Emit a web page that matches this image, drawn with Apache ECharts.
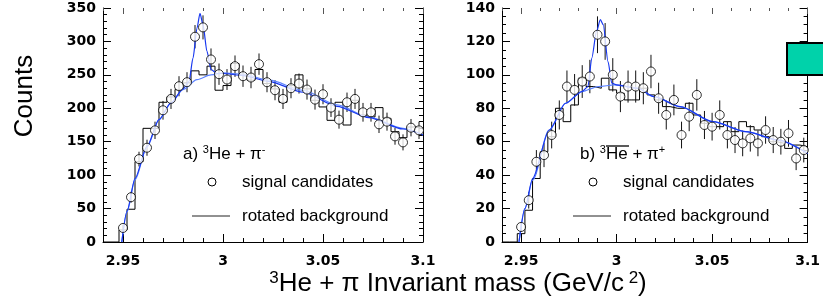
<!DOCTYPE html>
<html>
<head>
<meta charset="utf-8">
<script src="https://cdn.jsdelivr.net/npm/echarts@6/dist/echarts.min.js"></script>
<style>
  html, body { margin: 0; padding: 0; background: #fff; }
  #chart { width: 823px; height: 302px; }
</style>
</head>
<body>
<div id="chart"></div>
<script>
// bin centres (GeV/c^2), bin width 0.004
const binCenters = [2.942, 2.946, 2.950, 2.954, 2.958, 2.962, 2.966, 2.970, 2.974, 2.978,
  2.982, 2.986, 2.990, 2.994, 2.998, 3.002, 3.006, 3.010, 3.014, 3.018,
  3.022, 3.026, 3.030, 3.034, 3.038, 3.042, 3.046, 3.050, 3.054, 3.058,
  3.062, 3.066, 3.070, 3.074, 3.078, 3.082, 3.086, 3.090, 3.094, 3.098];
const binHalf = 0.002;
const xTickLabels = [2.95, 3, 3.05, 3.1];

// a) 3He + pi-
const signalA = [null, null, 21, 67, 124, 141, 167, 197, 214, 233,
  239, 307, 321, 273, 251, 243, 263, 248, 246, 266,
  239, 227, 214, 230, 237, 228, 213, 221, 201, 183,
  209, 214, 194, 194, 176, 180, 158, 149, 171, 167];
const errorA = [null, null, 4.6, 8.2, 11, 12, 13, 14, 15, 15,
  15, 17.5, 18, 16.5, 16, 15.6, 16, 16, 16, 16,
  15, 15, 15, 15, 15, 15, 15, 15, 14, 13.5,
  14.5, 15, 14, 14, 13, 13.5, 12.5, 12, 13, 13];
const rotatedA = [0, 0, 18, 49, 120, 170, 170, 209, 217, 228,
  238, 256, 250, 263, 227, 234, 267, 250, 242, 258,
  237, 229, 209, 234, 250, 229, 212, 202, 182, 209,
  175, 212, 190, 187, 201, 185, 165, 156, 172, 170];
const fitAx = [2.9494, 2.952, 2.956, 2.962, 2.968, 2.974, 2.980, 2.983, 2.985, 2.987, 2.9885,
  2.990, 2.992, 2.994, 2.997, 3.000, 3.010, 3.023, 3.040, 3.057, 3.073, 3.090, 3.100];
const fitAy = [0, 46, 95, 143, 183, 208, 229, 240, 275, 320, 342,
  325, 285, 258, 252, 252, 249, 240, 224, 203, 186, 169, 160];
const bkgAx = [2.9494, 2.952, 2.956, 2.962, 2.968, 2.974, 2.980, 2.987, 2.994, 3.000,
  3.010, 3.023, 3.040, 3.057, 3.073, 3.090, 3.100];
const bkgAy = [0, 45, 93, 142, 183, 208, 228, 243, 250, 253,
  251, 242, 227, 205, 187, 170, 160];

// b) anti-3He + pi+
const signalB = [null, null, 9, 25, 48, 52, 64, 76, 93, 91,
  96, 99, 124, 120, 100, 87, 93, 93, 92, 102,
  86, 76, 85, 64, 75, 88, 70, 69, 76, 64,
  61, 59, 62, 59, 67, 61, 60, 65, 50, 55];
const errorB = [null, null, 3, 5, 7, 7.2, 8, 8.7, 9.6, 9.5,
  9.8, 10, 11, 11, 10, 9.3, 9.6, 9.6, 9.6, 10,
  9.3, 8.7, 9.2, 8, 8.7, 9.4, 8.4, 8.3, 8.7, 8,
  7.8, 7.7, 7.9, 7.7, 8.2, 7.8, 7.7, 8, 7, 7.4];
const rotatedB = [0, 0, 5, 19, 38, 54, 63, 80, 72, 82,
  98, 93, 92, 98, 91, 89, 85, 85, 92, 88,
  85, 81, 80, 80, 83, 76, 71, 69, 69, 72,
  66, 72, 69, 67, 63, 60, 59, 56, 58, 57];
const fitBx = [2.9489, 2.952, 2.956, 2.9647, 2.9733, 2.9818, 2.985, 2.987, 2.9895, 2.9915,
  2.993, 2.9955, 2.9975, 3.000, 3.011, 3.0196, 3.0333, 3.0504, 3.0676, 3.0847, 3.100];
const fitBy = [0, 20, 38, 67, 83, 90, 93, 110, 126, 133,
  130, 108, 95, 94, 92, 87, 81, 72, 66, 61, 53];
const bkgBx = [2.9489, 2.952, 2.956, 2.9647, 2.9733, 2.9818, 2.9904, 2.999, 3.011, 3.0196,
  3.0333, 3.0504, 3.0676, 3.0847, 3.100];
const bkgBy = [0, 20, 37, 67, 83, 90, 93, 94, 92, 87, 81, 72, 66, 61, 53];

const labelFont = {
  color: '#000',
  fontFamily: 'DejaVu Sans',
  fontWeight: 'bold',
  fontSize: 14
};

function pairs (xs, ys) {
  return xs.map((x, i) => [x, ys[i]]);
}

function stepData (values) {
  const out = [];
  values.forEach((v, i) => {
    out.push([binCenters[i] - binHalf, v]);
    out.push([binCenters[i] + binHalf, v]);
  });
  return out;
}

function pointData (values, errors) {
  const out = [];
  values.forEach((v, i) => {
    if (v !== null) out.push([binCenters[i], v, errors[i]]);
  });
  return out;
}

// four x axes per panel: bottom minor/major, top minor/major
function xAxesFor (gridIndex) {
  const base = {
    type: 'value', gridIndex: gridIndex, min: 2.94, max: 3.1,
    splitLine: { show: false }
  };
  return [
    Object.assign({}, base, {
      position: 'bottom', interval: 0.01,
      axisLine: { show: true, onZero: false, lineStyle: { color: '#000', width: 1 } },
      axisTick: { show: true, inside: true, length: 4, lineStyle: { color: '#000' } },
      axisLabel: Object.assign({ customValues: xTickLabels, margin: 12 }, labelFont)
    }),
    Object.assign({}, base, {
      position: 'bottom',
      axisLine: { show: false, onZero: false },
      axisTick: { show: true, inside: true, length: 8, customValues: xTickLabels, lineStyle: { color: '#000' } },
      axisLabel: { show: false }
    }),
    Object.assign({}, base, {
      position: 'top', interval: 0.01,
      axisLine: { show: false, onZero: false },
      axisTick: { show: true, inside: true, length: 3, lineStyle: { color: '#555' } },
      axisLabel: { show: false }
    }),
    Object.assign({}, base, {
      position: 'top',
      axisLine: { show: false, onZero: false },
      axisTick: { show: true, inside: true, length: 6, customValues: xTickLabels, lineStyle: { color: '#555' } },
      axisLabel: { show: false }
    })
  ];
}

function yAxesFor (gridIndex, max, interval, minorSplit) {
  const base = {
    type: 'value', gridIndex: gridIndex, min: 0, max: max, interval: interval,
    splitLine: { show: false },
    axisLine: { show: true, onZero: false, lineStyle: { color: '#000', width: 1 } },
    axisTick: { show: true, inside: true, length: 8, lineStyle: { color: '#000' } },
    minorTick: { show: true, splitNumber: minorSplit, length: 4, lineStyle: { color: '#000' } }
  };
  return [
    Object.assign({}, base, {
      position: 'left',
      axisLabel: Object.assign({ margin: 7 }, labelFont)
    }),
    Object.assign({}, base, {
      position: 'right',
      axisLabel: { show: false }
    })
  ];
}

function errorBars (xIdx, yIdx, data) {
  return {
    type: 'custom', xAxisIndex: xIdx, yAxisIndex: yIdx, data: data, z: 3,
    renderItem: function (params, api) {
      const x = api.value(0), v = api.value(1), e = api.value(2);
      const top = api.coord([x, v + e]);
      const bot = api.coord([x, v - e]);
      return {
        type: 'line',
        shape: { x1: top[0], y1: top[1], x2: bot[0], y2: bot[1] },
        style: { stroke: '#111', lineWidth: 1 }
      };
    }
  };
}

function panelSeries (xIdx, yIdx, rotated, signal, errors, fx, fy, bx, by) {
  return [
    {
      type: 'line', xAxisIndex: xIdx, yAxisIndex: yIdx, data: stepData(rotated),
      symbol: 'none', lineStyle: { color: '#000', width: 1 }, z: 2, animation: false
    },
    errorBars(xIdx, yIdx, pointData(signal, errors)),
    {
      type: 'line', xAxisIndex: xIdx, yAxisIndex: yIdx, data: pairs(bx, by),
      symbol: 'none', smooth: 0.3, smoothMonotone: 'x',
      lineStyle: { color: '#5b82ff', width: 1.2 }, z: 4
    },
    {
      type: 'line', xAxisIndex: xIdx, yAxisIndex: yIdx, data: pairs(fx, fy),
      symbol: 'none', smooth: 0.25, smoothMonotone: 'x',
      lineStyle: { color: '#1838f0', width: 1.2 }, z: 5
    },
    {
      type: 'scatter', xAxisIndex: xIdx, yAxisIndex: yIdx, data: pointData(signal, errors),
      symbol: 'circle', symbolSize: 9,
      itemStyle: { color: '#fff', borderColor: '#000', borderWidth: 1 }, z: 6
    }
  ];
}

const textFont = { fontFamily: 'Liberation Sans', fontSize: 17, fill: '#000' };
const supStyle = { fontFamily: 'Liberation Sans', fontSize: 11, verticalAlign: 'top', lineHeight: 20 };
const mainStyle = { fontFamily: 'Liberation Sans', fontSize: 17, lineHeight: 20 };

function legendGraphics (x0, titleX, titleText) {
  return [
    {
      type: 'text', x: titleX, y: 144, z: 10,
      style: { text: titleText, rich: { t: mainStyle, s: supStyle }, fill: '#000' }
    },
    {
      type: 'circle', z: 10, shape: { cx: x0 + 22, cy: 182, r: 4 },
      style: { fill: '#fff', stroke: '#000', lineWidth: 1 }
    },
    {
      type: 'text', x: x0 + 52, y: 182, z: 10,
      style: Object.assign({ text: 'signal candidates', verticalAlign: 'middle' }, textFont)
    },
    {
      type: 'line', z: 10, shape: { x1: x0 + 2, y1: 216, x2: x0 + 40, y2: 216 },
      style: { stroke: '#222', lineWidth: 1 }
    },
    {
      type: 'text', x: x0 + 52, y: 216, z: 10,
      style: Object.assign({ text: 'rotated background', verticalAlign: 'middle' }, textFont)
    }
  ];
}

const myChart = echarts.init(document.getElementById('chart'));

const option = {
  animation: false,
  backgroundColor: '#fff',
  grid: [
    { left: 103, right: 400, top: 8, bottom: 60 },
    { left: 502, right: 10, top: 8, bottom: 60 }
  ],
  xAxis: xAxesFor(0).concat(xAxesFor(1)),
  yAxis: yAxesFor(0, 350, 50, 5).concat(yAxesFor(1, 140, 20, 4)),
  series: panelSeries(0, 0, rotatedA, signalA, errorA, fitAx, fitAy, bkgAx, bkgAy)
    .concat(panelSeries(4, 2, rotatedB, signalB, errorB, fitBx, fitBy, bkgBx, bkgBy)),
  graphic: [
    {
      type: 'text', x: 25, y: 96, rotation: Math.PI / 2, z: 10,
      style: {
        text: 'Counts', fontFamily: 'Liberation Sans', fontSize: 26, fill: '#000',
        align: 'center', verticalAlign: 'middle'
      }
    },
    {
      type: 'text', x: 458, y: 284, z: 10,
      style: {
        text: '{s|3}{t|He + π Invariant mass (GeV/c}{s| 2}{t|)}',
        align: 'center', verticalAlign: 'middle', fill: '#000',
        rich: {
          t: { fontFamily: 'Liberation Sans', fontSize: 26, lineHeight: 28 },
          s: { fontFamily: 'Liberation Sans', fontSize: 17, lineHeight: 28, verticalAlign: 'top' }
        }
      }
    },
    // cut-off box at the right edge
    {
      type: 'rect', z: 20, shape: { x: 787, y: 43, width: 40, height: 32 },
      style: { fill: '#00d2aa', stroke: '#000', lineWidth: 2 }
    },
    // overline of the anti-helium
    {
      type: 'line', z: 10, shape: { x1: 606, y1: 146, x2: 629, y2: 146 },
      style: { stroke: '#000', lineWidth: 1.3 }
    }
  ]
    .concat(legendGraphics(190, 183, '{t|a) }{s|3}{t|He + π}{s|-}'))
    .concat(legendGraphics(571, 580, '{t|b) }{s|3}{t|He + π}{s|+}'))
};

myChart.setOption(option);
</script>
</body>
</html>
